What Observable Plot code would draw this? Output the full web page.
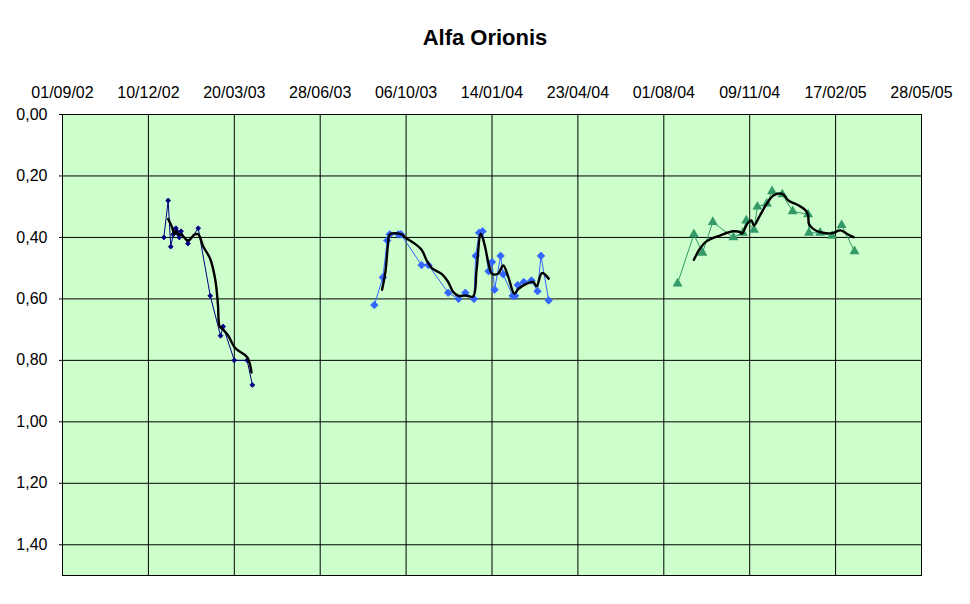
<!DOCTYPE html>
<html>
<head>
<meta charset="utf-8">
<script src="https://cdn.jsdelivr.net/npm/d3@7"></script>
<script src="https://cdn.jsdelivr.net/npm/@observablehq/plot@0.6"></script>
<style>
  html, body { margin: 0; padding: 0; background: #ffffff; }
  #title { height: 64px; width: 970px; text-align: center; font-family: "Liberation Sans", Arial, sans-serif; font-weight: bold; font-size: 22px; line-height: 76px; color: #000; }
</style>
</head>
<body>
<div id="title">Alfa Orionis</div>
<div id="chart"></div>
<script>
// X tick labels (every 100 days) and y ticks
const xTickDates = ["2002-09-01","2002-12-10","2003-03-20","2003-06-28","2003-10-06","2004-01-14","2004-04-23","2004-08-01","2004-11-09","2005-02-17","2005-05-28"];
const yTickValues = [0, 0.2, 0.4, 0.6, 0.8, 1.0, 1.2, 1.4];

// Series 1 (2002-2003)
const s1Dates = ["2002-12-28","2003-01-02","2003-01-05","2003-01-08","2003-01-11","2003-01-12","2003-01-14","2003-01-15","2003-01-17","2003-01-25","2003-02-06","2003-02-20","2003-03-04","2003-03-07","2003-03-20","2003-04-04","2003-04-10"];
const s1Values = [0.40,0.28,0.43,0.39,0.37,0.38,0.39,0.40,0.38,0.42,0.37,0.59,0.72,0.69,0.80,0.80,0.88];
const t1Dates = ["2003-01-02","2003-01-07","2003-01-09","2003-01-11","2003-01-14","2003-01-17","2003-01-25","2003-02-02","2003-02-06","2003-02-12","2003-02-20","2003-02-26","2003-03-01","2003-03-03","2003-03-07","2003-03-13","2003-03-21","2003-04-04","2003-04-09"];
const t1Values = [0.34,0.37,0.39,0.38,0.39,0.39,0.41,0.39,0.39,0.43,0.47,0.54,0.62,0.69,0.70,0.72,0.76,0.79,0.84];

// Series 2 (2003-2004)
const s2Dates = ["2003-08-30","2003-09-09","2003-09-14","2003-09-17","2003-09-27","2003-09-30","2003-10-24","2003-11-01","2003-11-24","2003-12-06","2003-12-14","2003-12-24","2003-12-26","2003-12-30","2004-01-03","2004-01-10","2004-01-14","2004-01-17","2004-01-24","2004-01-27","2004-02-07","2004-02-10","2004-02-13","2004-02-20","2004-02-29","2004-03-07","2004-03-11","2004-03-20"];
const s2Values = [0.62,0.53,0.41,0.39,0.39,0.39,0.49,0.49,0.58,0.60,0.58,0.60,0.46,0.385,0.38,0.51,0.48,0.57,0.46,0.52,0.59,0.59,0.555,0.545,0.54,0.575,0.46,0.605];
const t2Dates = ["2003-09-08","2003-09-12","2003-09-15","2003-09-17","2003-10-01","2003-10-05","2003-10-16","2003-10-24","2003-10-30","2003-11-05","2003-11-17","2003-11-24","2003-11-30","2003-12-06","2003-12-14","2003-12-23","2003-12-27","2004-01-01","2004-01-06","2004-01-10","2004-01-14","2004-01-21","2004-01-27","2004-02-02","2004-02-09","2004-02-14","2004-02-23","2004-03-02","2004-03-06","2004-03-12","2004-03-20"];
const t2Values = [0.57,0.51,0.42,0.39,0.39,0.40,0.42,0.44,0.475,0.50,0.52,0.545,0.578,0.59,0.589,0.592,0.507,0.388,0.431,0.486,0.518,0.518,0.491,0.529,0.583,0.567,0.551,0.545,0.559,0.516,0.534];

// Series 3 (2004-2005)
const s3Dates = ["2004-08-17","2004-09-05","2004-09-15","2004-09-27","2004-10-21","2004-11-01","2004-11-05","2004-11-14","2004-11-18","2004-11-29","2004-12-05","2004-12-17","2004-12-29","2005-01-16","2005-01-17","2005-01-30","2005-02-13","2005-02-24","2005-03-11"];
const s3Values = [0.55,0.39,0.45,0.35,0.40,0.385,0.345,0.375,0.30,0.29,0.25,0.26,0.315,0.325,0.385,0.385,0.395,0.36,0.445];
const t3Dates = ["2004-09-05","2004-09-12","2004-09-20","2004-10-06","2004-10-21","2004-10-29","2004-10-31","2004-11-06","2004-11-11","2004-11-14","2004-11-21","2004-11-29","2004-12-07","2004-12-17","2004-12-24","2005-01-05","2005-01-13","2005-01-16","2005-01-17","2005-01-22","2005-01-30","2005-02-13","2005-02-23","2005-03-02","2005-03-10"];
const t3Values = [0.473,0.437,0.412,0.393,0.38,0.383,0.388,0.356,0.345,0.361,0.328,0.29,0.263,0.258,0.28,0.296,0.312,0.328,0.356,0.372,0.383,0.386,0.377,0.388,0.399];

const rows = (ds, vs) => ds.map((d, i) => ({date: new Date(d), value: vs[i]}));
const s1 = rows(s1Dates, s1Values), s2 = rows(s2Dates, s2Values), s3 = rows(s3Dates, s3Values);
const t1 = rows(t1Dates, t1Values), t2 = rows(t2Dates, t2Values), t3 = rows(t3Dates, t3Values);
const xTicks = xTickDates.map(d => new Date(d));

const c1 = "#000080", c2 = "#3366ff", c3 = "#339966";

const chart = Plot.plot({
  width: 970,
  height: 540,
  marginTop: 50,
  marginLeft: 62,
  marginRight: 49,
  marginBottom: 29,
  style: {fontFamily: "'Liberation Sans', Arial, sans-serif", fontSize: "16px", background: "#ffffff", color: "#000"},
  x: {type: "utc", domain: [xTicks[0], xTicks[xTicks.length - 1]]},
  y: {domain: [0, 1.5], reverse: true},
  marks: [
    Plot.frame({fill: "#ccffcc", stroke: null}),
    Plot.gridX(xTicks, {stroke: "#000", strokeOpacity: 1, strokeWidth: 1}),
    Plot.gridY(yTickValues, {stroke: "#000", strokeOpacity: 1, strokeWidth: 1}),
    Plot.frame({stroke: "#000", strokeWidth: 1}),
    Plot.axisX(xTicks, {anchor: "top", tickSize: 0, tickPadding: 17, tickFormat: d3.utcFormat("%d/%m/%y"), label: null}),
    Plot.axisY(yTickValues, {anchor: "left", tickSize: 3, tickPadding: 12, tickFormat: d => d.toFixed(2).replace(".", ","), label: null}),
    Plot.line(s1, {x: "date", y: "value", stroke: c1, strokeWidth: 1}),
    Plot.dot(s1, {x: "date", y: "value", symbol: "diamond2", r: 2.2, fill: c1, stroke: c1, strokeWidth: 0.8}),
    Plot.line(s2, {x: "date", y: "value", stroke: c2, strokeWidth: 1}),
    Plot.dot(s2, {x: "date", y: "value", symbol: "diamond2", r: 3.4, fill: c2, stroke: c2, strokeWidth: 0.8}),
    Plot.line(s3, {x: "date", y: "value", stroke: c3, strokeWidth: 1}),
    Plot.dot(s3, {x: "date", y: "value", symbol: "triangle", r: 3.7, fill: c3, stroke: null}),
    Plot.line(t1, {x: "date", y: "value", stroke: "#000", strokeWidth: 2.4, curve: "catmull-rom"}),
    Plot.line(t2, {x: "date", y: "value", stroke: "#000", strokeWidth: 2.4, curve: "catmull-rom"}),
    Plot.line(t3, {x: "date", y: "value", stroke: "#000", strokeWidth: 2.4, curve: "catmull-rom"})
  ]
});
document.getElementById("chart").appendChild(chart);
</script>
</body>
</html>
